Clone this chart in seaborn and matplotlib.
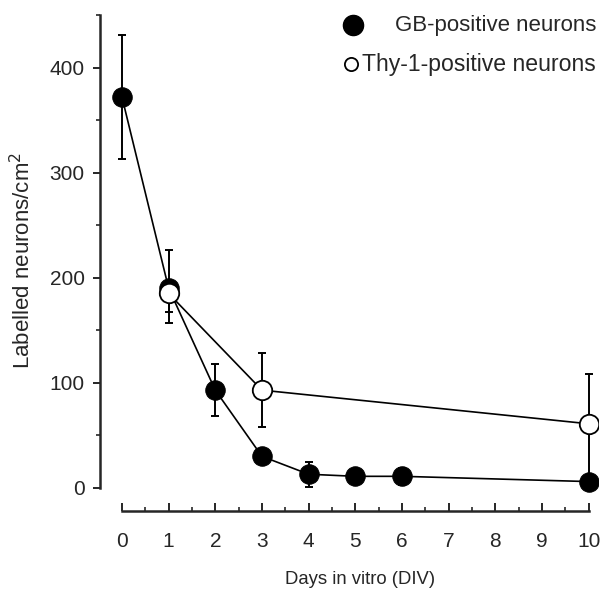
import numpy as np
import pandas as pd
import matplotlib
matplotlib.use("Agg")
import matplotlib.pyplot as plt
from matplotlib.lines import Line2D
from matplotlib.ticker import MultipleLocator
import seaborn as sns

# values
gb_days = [0, 1, 2, 3, 4, 5, 6, 10]
gb_mean = [372, 190, 93, 30, 13, 11, 11, 6]
gb_err_lo = [59, 23, 25, 5, 12, 0, 8, 0]
gb_err_hi = [59, 36, 25, 5, 12, 0, 8, 0]

thy_days = [1, 3, 10]
thy_mean = [185, 93, 61]
thy_err_lo = [28, 35, 50]
thy_err_hi = [0, 35, 47]

x_ticks = [0, 1, 2, 3, 4, 5, 6, 7, 8, 9, 10]
y_ticks = [0, 100, 200, 300, 400]

sns.set_style("ticks")
plt.rcParams['font.family'] = ['Liberation Sans', 'DejaVu Sans']

gb = pd.DataFrame({'day': gb_days, 'n': gb_mean})
thy = pd.DataFrame({'day': thy_days, 'n': thy_mean})

fig = plt.figure(figsize=(6.04, 5.91), dpi=100)
ax = fig.add_axes([100 / 604, 1 - 511 / 591, 498 / 604, 496 / 591])

# GB-positive (filled)
ax.errorbar(gb_days, gb_mean, yerr=[gb_err_lo, gb_err_hi], fmt='none',
            ecolor='black', elinewidth=1.4, capsize=2.8, capthick=1.4, zorder=2)
sns.lineplot(data=gb, x='day', y='n', ax=ax, color='black', lw=1.2,
             marker='o', markersize=14, markerfacecolor='black',
             markeredgecolor='black', zorder=3)

# Thy-1-positive (open)
ax.errorbar(thy_days, thy_mean, yerr=[thy_err_lo, thy_err_hi], fmt='none',
            ecolor='black', elinewidth=1.4, capsize=2.8, capthick=1.4, zorder=4)
sns.lineplot(data=thy, x='day', y='n', ax=ax, color='black', lw=1.2,
             marker='o', markersize=14, markerfacecolor='white',
             markeredgecolor='black', markeredgewidth=1.3, zorder=5)

ax.set_xlim(-0.47, 10.2)
ax.set_ylim(-22, 450)
ax.spines['top'].set_visible(False)
ax.spines['right'].set_visible(False)
ax.spines['left'].set_bounds(0, 450)
ax.spines['bottom'].set_bounds(0, 10)
ax.spines['left'].set_linewidth(1.8)
ax.spines['bottom'].set_linewidth(1.8)

ax.set_xticks(x_ticks)
ax.set_yticks(y_ticks)
ax.xaxis.set_minor_locator(MultipleLocator(0.5))
ax.yaxis.set_minor_locator(MultipleLocator(50))
ax.tick_params(axis='x', which='major', direction='in', length=6, width=1.4,
               labelsize=15, pad=15)
ax.tick_params(axis='x', which='minor', direction='in', length=3, width=1.2)
ax.tick_params(axis='y', which='major', direction='out', length=5, width=1.4,
               labelsize=15, pad=6)
ax.tick_params(axis='y', which='minor', direction='out', length=3, width=1.2)

ax.set_xlabel('Days in vitro (DIV)', fontsize=13.3)
ax.set_ylabel('Labelled neurons/cm$^2$', fontsize=16)
ax.xaxis.set_label_coords(0.522, -0.121)
ax.yaxis.set_label_coords(-0.13, 0.506)

# legend, placed by hand like the original
fig.add_artist(Line2D([353 / 604], [1 - 25 / 591], marker='o', markersize=14.5,
                      color='black', transform=fig.transFigure))
fig.text(395 / 604, 1 - 25 / 591, 'GB-positive neurons', fontsize=16,
         va='center', ha='left')
fig.add_artist(Line2D([351 / 604], [1 - 64 / 591], marker='o', markersize=9.5,
                      markerfacecolor='white', markeredgecolor='black',
                      markeredgewidth=1.3, transform=fig.transFigure))
fig.text(362 / 604, 1 - 64 / 591, 'Thy-1-positive neurons', fontsize=16.6,
         va='center', ha='left')

fig.savefig('out.png', dpi=100)
